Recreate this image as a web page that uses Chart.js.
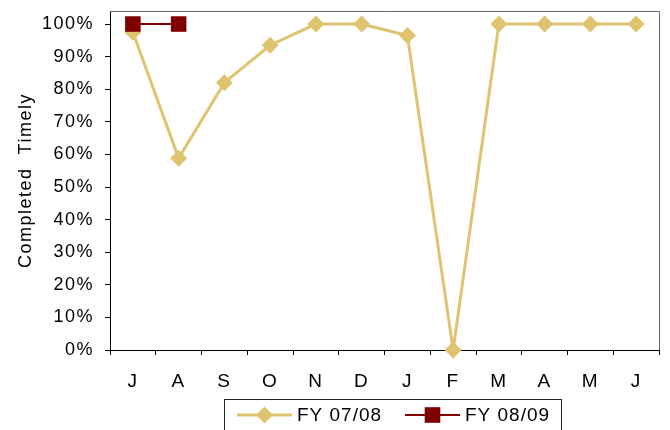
<!DOCTYPE html>
<html>
<head>
<meta charset="utf-8">
<script src="https://cdn.jsdelivr.net/npm/chart.js@4/dist/chart.umd.min.js"></script>
<style>
html,body{margin:0;padding:0;background:#fff;}
canvas{display:block;}
</style>
</head>
<body>
<canvas id="c" width="670" height="430"></canvas>
<script>
const categories = ['J','A','S','O','N','D','J','F','M','A','M','J'];
const fy0708 = [97.5, 58.8, 82, 93.5, 100, 100, 96.5, 0, 100, 100, 100, 100];
const fy0809 = [100, 100];
const yTickValues = [0,10,20,30,40,50,60,70,80,90,100];
const yTitle = 'Completed  Timely';
const seriesNames = ['FY 07/08', 'FY 08/09'];

const YELLOW = '#E0C36F';
const RED = '#800000';
const FONT = "'Liberation Sans', Arial, sans-serif";
const SPACING = '1.5px';

const spacingPlugin = {
  id: 'spacing',
  beforeUpdate(chart){ chart.ctx.letterSpacing = SPACING; },
  beforeDraw(chart){ chart.ctx.letterSpacing = SPACING; }
};

const framePlugin = {
  id: 'frame',
  beforeDatasetsDraw(chart){
    const {ctx, chartArea:a} = chart;
    ctx.save();
    ctx.strokeStyle = '#6a6a6a';
    ctx.lineWidth = 1;
    ctx.beginPath();
    ctx.moveTo(a.left, a.top + 0.5);
    ctx.lineTo(a.right + 0.5, a.top + 0.5);
    ctx.lineTo(a.right + 0.5, a.bottom);
    ctx.stroke();
    ctx.restore();
  }
};

const legendPlugin = {
  id: 'customLegend',
  afterDraw(chart){
    const ctx = chart.ctx;
    ctx.save();
    ctx.letterSpacing = '1px';
    ctx.strokeStyle = '#222';
    ctx.lineWidth = 1;
    ctx.strokeRect(224.5, 399.5, 337, 40);
    const items = [
      {x:237, ds: chart.data.datasets[0]},
      {x:405, ds: chart.data.datasets[1]}
    ];
    const y = 415;
    items.forEach(it => {
      const ds = it.ds;
      ctx.strokeStyle = ds.borderColor;
      ctx.lineWidth = ds.borderWidth;
      ctx.beginPath();
      ctx.moveTo(it.x, y);
      ctx.lineTo(it.x + 55, y);
      ctx.stroke();
      const cx = it.x + 27.5;
      ctx.fillStyle = ds.pointBackgroundColor;
      ctx.beginPath();
      if (ds.pointStyle === 'rectRot') {
        const r = 8.5;
        ctx.moveTo(cx, y - r); ctx.lineTo(cx + r, y); ctx.lineTo(cx, y + r); ctx.lineTo(cx - r, y);
        ctx.closePath();
      } else {
        const h = 7.8;
        ctx.rect(cx - h, y - h, 2*h, 2*h);
      }
      ctx.fill();
      ctx.fillStyle = '#000';
      ctx.font = "19px " + FONT;
      ctx.textBaseline = 'middle';
      ctx.textAlign = 'left';
      ctx.fillText(ds.label, it.x + 60, y + 1);
    });
    ctx.restore();
  }
};

new Chart(document.getElementById('c'), {
  type: 'line',
  data: {
    labels: categories,
    datasets: [
      {
        label: seriesNames[0],
        data: fy0708,
        borderColor: YELLOW,
        backgroundColor: YELLOW,
        pointBackgroundColor: YELLOW,
        pointBorderColor: YELLOW,
        pointBorderWidth: 0,
        borderWidth: 3,
        pointStyle: 'rectRot',
        pointRadius: 8.5,
        pointHoverRadius: 8.5,
        tension: 0,
        clip: false,
        order: 1
      },
      {
        label: seriesNames[1],
        data: fy0809,
        borderColor: RED,
        backgroundColor: RED,
        pointBackgroundColor: RED,
        pointBorderColor: RED,
        pointBorderWidth: 0,
        borderWidth: 2,
        pointStyle: 'rect',
        pointRadius: 11,
        pointHoverRadius: 11,
        tension: 0,
        clip: false,
        order: 0
      }
    ]
  },
  options: {
    responsive: false,
    animation: false,
    events: [],
    layout: { padding: { top: 4, right: 10, left: 0, bottom: 0 } },
    plugins: {
      legend: { display: false },
      tooltip: { enabled: false }
    },
    scales: {
      x: {
        type: 'category',
        offset: true,
        afterFit(s){ s.height = 80; s.paddingLeft = 0; s.paddingRight = 0; },
        grid: { display: true, drawOnChartArea: false, drawTicks: true, tickLength: 5, color: '#000', offset: true },
        border: { display: true, color: '#000', width: 1 },
        ticks: { color: '#000', font: { family: FONT, size: 19 }, padding: 15, maxRotation: 0, autoSkip: false }
      },
      y: {
        min: 0,
        max: 104,
        afterFit(s){ s.width = 110; s.paddingTop = 0; s.paddingBottom = 0; },
        afterBuildTicks(s){ s.ticks = yTickValues.map(v => ({value: v})); },
        grid: { display: true, drawOnChartArea: false, drawTicks: true, tickLength: 5, color: '#000' },
        border: { display: true, color: '#000', width: 1 },
        ticks: { color: '#000', font: { family: FONT, size: 18, lineHeight: 0.2 }, padding: 11, callback: v => v + '%' },
        title: { display: true, text: yTitle, color: '#000', font: { family: FONT, size: 18 }, padding: { top: 15, bottom: 0 } }
      }
    }
  },
  plugins: [spacingPlugin, framePlugin, legendPlugin]
});
</script>
</body>
</html>
